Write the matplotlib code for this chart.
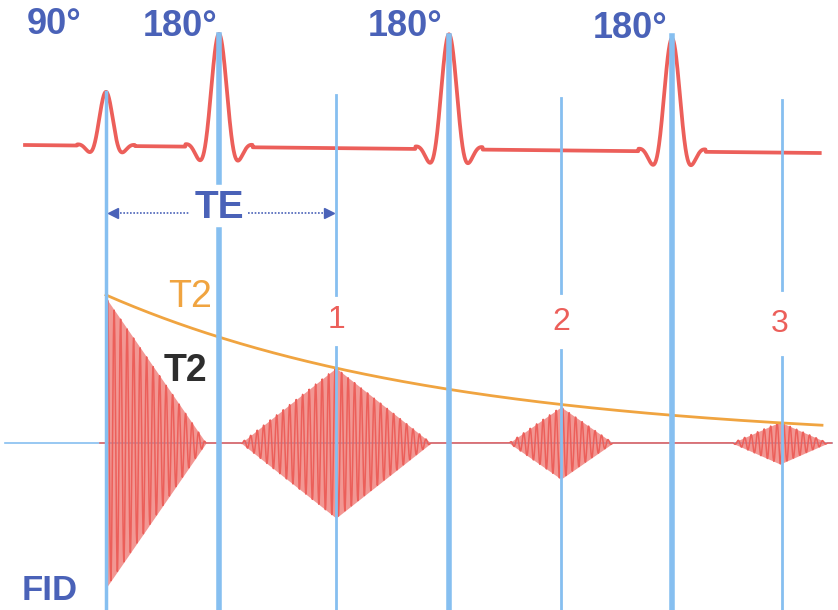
import numpy as np
import matplotlib.pyplot as plt

# spin-echo sequence, drawn in picture units (x to the right, y downwards)
pulse_labels = ["90°", "180°", "180°", "180°"]
pulse_x = [106, 219, 449, 672]
pulse_height = [54, 113, 115, 113]
pulse_width = [12, 14, 14, 14]
label_pos = [(54, 25), (180, 26), (405, 27), (630, 28)]

echo_labels = ["1", "2", "3"]
echo_x = [336, 561, 780]
echo_halfwidth = [95, 52, 48]
echo_amp = [75, 36, 21]
echo_label_y = [320, 322, 324]

fid_amp = 145
fid_len = 100
t2_amp = 148          # T2 envelope at the 90° pulse
t2_const = 338        # decay constant of the envelope
base_y = 443          # signal zero line
rf_left, rf_right = 25, 820
rf_y_left, rf_y_right = 145, 153

red = "#ec5f5a"
blue_txt = "#4a62b8"
blue_line = "#86bff0"

fig = plt.figure(figsize=(8.38, 6.10), dpi=100)
ax = fig.add_axes([0, 0, 1, 1])
ax.set_xlim(0, 838)
ax.set_ylim(610, 0)
ax.axis("off")

# RF line with sinc pulses
x = np.arange(rf_left, rf_right, 0.25)
rf = rf_y_left + (x - rf_left) * (rf_y_right - rf_y_left) / (rf_right - rf_left)
for px, h, w in zip(pulse_x, pulse_height, pulse_width):
    u = (x - px) / w
    shape = np.sinc(u) * np.exp(-(u / 1.8) ** 2)
    shape[np.abs(u) > 2.4] = 0
    rf = rf - h * shape
ax.plot(x, rf, color=red, lw=2.7, zorder=2)

# signal: FID and echoes
xs = np.arange(100, 832, 0.2)
env = np.where((xs >= pulse_x[0]) & (xs <= pulse_x[0] + fid_len),
               fid_amp * (1 - (xs - pulse_x[0]) / fid_len), 0)
for ex, hw, a in zip(echo_x, echo_halfwidth, echo_amp):
    env = env + np.clip(a * (1 - np.abs(xs - ex) / hw), 0, None)
sig = env * np.sin(2 * np.pi * (xs - pulse_x[0]) / 6.5)
ax.fill_between(xs, base_y - env, base_y + env, color=red, alpha=0.65, lw=0, zorder=2)
ax.plot(xs, base_y - sig, color=red, lw=1.1, zorder=2)

# horizontal zero line
ax.plot([5, 832], [base_y, base_y], color=blue_line, lw=1.2, zorder=1)

# T2 envelope
xt = np.linspace(pulse_x[0], 822, 300)
ax.plot(xt, base_y - t2_amp * np.exp(-(xt - pulse_x[0]) / t2_const),
        color="#f0a440", lw=2, zorder=3)

# vertical timing lines
ax.plot([pulse_x[0]] * 2, [92, 610], color=blue_line, lw=2.5, zorder=4)
ax.plot([pulse_x[1]] * 2, [35, 182], color=blue_line, lw=4, zorder=4)
ax.plot([pulse_x[1]] * 2, [230, 610], color=blue_line, lw=4, zorder=4)
for px in pulse_x[2:]:
    ax.plot([px, px], [36, 610], color=blue_line, lw=4, zorder=4)
for ex, top, gap in zip([336, 561, 782], [95, 98, 100], [(295, 347), (293, 350), (290, 357)]):
    ax.plot([ex, ex], [top, gap[0]], color=blue_line, lw=2, zorder=4)
    ax.plot([ex, ex], [gap[1], 610], color=blue_line, lw=2, zorder=4)

# TE arrow
ax.plot([110, 190], [213, 213], color=blue_txt, lw=1.2, ls=(0, (1, 1)), zorder=4)
ax.plot([248, 332], [213, 213], color=blue_txt, lw=1.2, ls=(0, (1, 1)), zorder=4)
ax.plot([113], [213], marker="<", color=blue_txt, ms=7, zorder=5)
ax.plot([329], [213], marker=">", color=blue_txt, ms=7, zorder=5)
ax.text(219, 208, "TE", color=blue_txt, fontsize=28, fontweight="bold",
        family="Liberation Sans", ha="center", va="center", zorder=5)

# labels
for lab, (lx, ly) in zip(pulse_labels, label_pos):
    ax.text(lx, ly, lab, color=blue_txt, fontsize=26, fontweight="bold",
            family="Liberation Sans", ha="center", va="center")
for lab, ex, ly in zip(echo_labels, echo_x, echo_label_y):
    ax.text(ex, ly, lab, color=red, fontsize=23, family="Liberation Sans",
            ha="center", va="center", zorder=5)
ax.text(190, 297, "T2", color="#f0a440", fontsize=27, family="Liberation Sans",
        ha="center", va="center", zorder=5)
ax.text(185, 371, "T2", color="#2e2e2e", fontsize=27, fontweight="bold",
        family="Liberation Sans", ha="center", va="center", zorder=5)
ax.text(50, 590, "FID", color=blue_txt, fontsize=25, fontweight="bold",
        family="Liberation Sans", ha="center", va="center", zorder=5)

fig.savefig("out.png", dpi=100)
